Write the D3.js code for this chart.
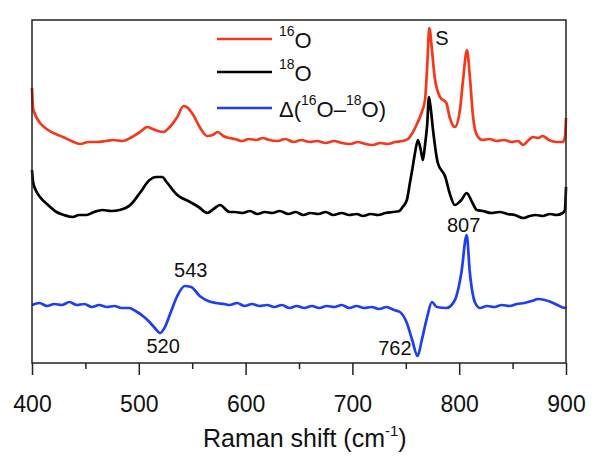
<!DOCTYPE html>
<html><head><meta charset="utf-8">
<script src="https://cdn.jsdelivr.net/npm/d3@7"></script>
<style>body{margin:0;background:#fff;}svg{display:block;font-family:"Liberation Sans",Arial,sans-serif;}</style>
</head><body>
<svg id="chart" width="601" height="464"></svg>
<script>
// Raman shift (cm-1) and intensities (arbitrary units, offset for display)
const shift16 = [400,401,402,405,407.5,415,429,437,445,453,461,469,476,485,492,501,508,513,518,523,529,536,542,546,551,557,564,569,574,579,585,590,597,603,610,616,622,630,637,645,652,660,667,675,683,690,698,705,712,719,726,733,740,747,752,755,760,765,768,770,772,774.5,777,782,788,791,796,800.7,803.6,807.3,810,813,816.5,822,828,835,842,849,855,860,865,869,874,878,884,891,897,899,900];
const int16   = [275,255,251,244,240,233,226,222,219,221,221,222,223,222,225,231,236,234,232,231,236,246,257,255,248,236,227,228,231,227,225,224,222,224,223,225,223,222,224,221,223,221,222,220,222,220,219,221,219,218,220,219,221,222,224,228,238,251,263,296,335,313,286,266,260,246,236,253,283,313,286,246,228,223,224,222,223,221,222,218,223,226,225,227,223,221,221,226,245];

const shift18 = [400,401,403,407.5,415,423,430,438,444,451,458,466,474,482,492,501,510,516,522,526,536,548,556,564,570,576,585,590,597,604,611,618,625,632,640,647,654,661,668,675,682,690,697,704,710,717,724,731,738,744,747,751,754,756,758.6,761.4,764,766,768,770,771.7,773.5,775.5,780,787,791,796,802,807,812,816.5,822,830,838,845,852,860,866,872,878,885,891,897,899,900];
const int18   = [193,181,174,166,158,151,148,146,148,148,151,153,152,153,158,170,183,186,186,181,168,161,156,150,154,158,151,151,150,152,149,151,150,152,149,151,148,150,149,151,148,150,148,149,147,149,148,150,151,152,156,163,181,193,210,223,213,203,218,238,266,253,233,200,186,170,158,163,170,161,153,152,150,151,149,148,145,147,148,147,149,148,150,153,176];

const shiftDiff = [400,407,414,421,428,435,442,449,456,463,470,477,484,491,497,505,510,515,520,524,530,536,543,549,557,565,572,580,585,592,599,606,613,620,627,634,641,648,655,662,669,676,683,690,697,704,711,718,725,732,739,744.5,751,756,761,765,770,774.5,779,788,796,802,807,810,815,819.5,826,833,840,847,854,861,868,874,880,886,892,899,900];
const intDiff   = [58,60,57,59,58,61,58,59,56,58,56,57,55,55,52,46,41,35,30,35,51,67,77,76,67,62,60,59,58,60,57,59,57,58,56,58,55,57,55,57,55,57,56,58,55,57,55,56,54,56,53,51,40,23,7,23,46,61,56,55,63,90,128,90,60,55,57,56,58,57,59,60,62,64,63,61,58,55,56];

const seriesColors = ["#f5371c","#000000","#1f3df2"];
const xTicks = [400,500,600,700,800,900];
const xMinorTicks = [450,550,650,750,850];
const peakLabels = [
  {text:"S", v:772, i:335, anchor:"start", dx:6, dy:17},
  {text:"807", v:807, i:128, anchor:"middle", dx:-3, dy:-3},
  {text:"543", v:543, i:77, anchor:"middle", dx:6, dy:-9},
  {text:"520", v:520, i:30, anchor:"middle", dx:3, dy:20},
  {text:"762", v:762, i:7, anchor:"end", dx:-7, dy:-1}
];

const svg = d3.select("#chart");
const L=32, R=566, T=20, B=363;
const x = d3.scaleLinear().domain([400,900]).range([L,R]);
const y = d3.scaleLinear().domain([0,343]).range([B,T]);

const line = d3.line().x(d=>x(d[0])).y(d=>y(d[1])).curve(d3.curveMonotoneX);
const data = [
  d3.zip(shift16,int16),
  d3.zip(shift18,int18),
  d3.zip(shiftDiff,intDiff)
];
[1,0,2].forEach(k=>{
  svg.append("path").datum(data[k]).attr("d",line)
    .attr("fill","none").attr("stroke",seriesColors[k]).attr("stroke-width",2.7)
    .attr("stroke-linejoin","round");
});

// frame
svg.append("rect").attr("x",L).attr("y",T).attr("width",R-L).attr("height",B-T)
  .attr("fill","none").attr("stroke","#222").attr("stroke-width",1.5);

// x axis
const ax = svg.append("g").attr("transform",`translate(0,${B})`)
  .call(d3.axisBottom(x).tickValues(xTicks).tickSize(12).tickSizeOuter(0).tickPadding(21).tickFormat(d3.format("d")));
ax.select(".domain").remove();
ax.selectAll("line").attr("stroke","#222").attr("stroke-width",1.5);
ax.selectAll("text").attr("font-size",23).attr("fill","#111").attr("font-family","Liberation Sans, Arial, sans-serif");
const axm = svg.append("g").attr("transform",`translate(0,${B})`)
  .call(d3.axisBottom(x).tickValues(xMinorTicks).tickSize(6).tickFormat(""));
axm.select(".domain").remove();
axm.selectAll("line").attr("stroke","#222").attr("stroke-width",1.5);

// axis title
const title = svg.append("text").attr("x",203).attr("y",447).attr("font-size",25).attr("fill","#111");
title.append("tspan").text("Raman shift (cm");
title.append("tspan").text("-1").attr("font-size",15).attr("dy",-11);
title.append("tspan").text(")").attr("dy",11);

// legend
const legY = [39,72,108];
legY.forEach((ly,k)=>{
  svg.append("line").attr("x1",217).attr("x2",272).attr("y1",ly).attr("y2",ly)
    .attr("stroke",seriesColors[k]).attr("stroke-width",2.7);
  const t = svg.append("text").attr("x",279).attr("y",ly+9).attr("font-size",22).attr("fill","#111");
  const parts = k===0 ? [["16",1],["O",0]] : k===1 ? [["18",1],["O",0]] : [["Δ(",0],["16",1],["O–",0],["18",1],["O)",0]];
  let sup=false;
  parts.forEach(([s,isSup])=>{
    const ts = t.append("tspan").text(s);
    if(isSup){ ts.attr("font-size",14); if(!sup){ts.attr("dy",-12);} sup=true; }
    else { if(sup){ts.attr("dy",12);} sup=false; }
  });
});

// peak labels
peakLabels.forEach(p=>{
  svg.append("text").attr("x",x(p.v)+p.dx).attr("y",y(p.i)+p.dy).attr("text-anchor",p.anchor)
    .attr("font-size",20).attr("fill","#111").text(p.text);
});
</script>
</body></html>
